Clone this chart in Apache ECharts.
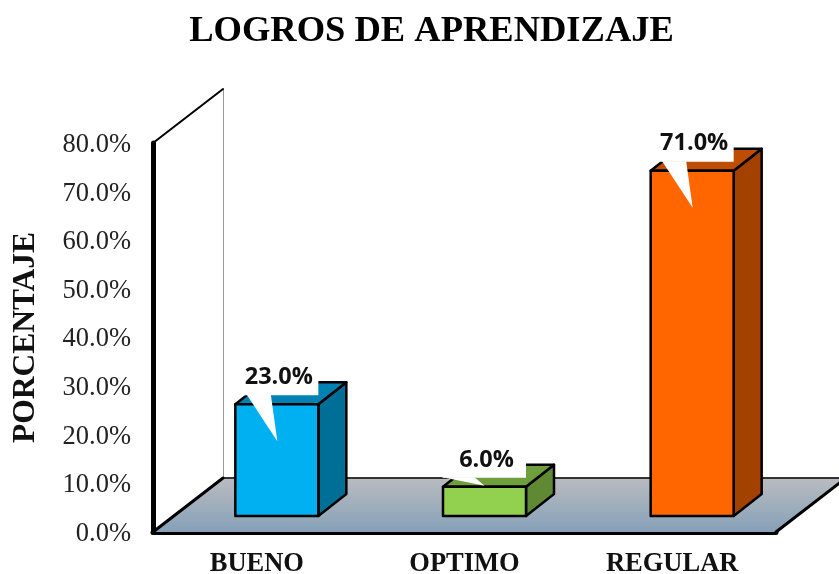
<!DOCTYPE html>
<html>
<head>
<meta charset="utf-8">
<style>
  html, body { margin: 0; padding: 0; background: #fff; }
  #main { width: 839px; height: 574px; }
</style>
<script src="https://cdn.jsdelivr.net/npm/echarts@6/dist/echarts.min.js"></script>
</head>
<body>
<div id="main"></div>
<script>
  var categories = ['BUENO', 'OPTIMO', 'REGULAR'];
  var values = [23, 6, 71];
  var frontColors = ['#00b0f0', '#92d050', '#ff6600'];
  var topColors = ['#0083b3', '#6f9e3d', '#bf4d00'];
  var sideColors = ['#006f98', '#5f8a33', '#a34100'];
  var yTicks = [0, 10, 20, 30, 40, 50, 60, 70, 80];

  // profundidad del piso y de las barras, en pixeles
  var floorDepth = [70, -54];
  var barDepth = [28, -22];
  var barShift = [20, -16];
  var barWidth = 83;

  var serif = '"Liberation Serif", "Times New Roman", serif';

  function poly(points, fill, stroke, lineWidth) {
    return {
      type: 'polygon',
      shape: { points: points },
      style: { fill: fill, stroke: stroke || 'none', lineWidth: lineWidth || 0, lineJoin: 'round' }
    };
  }

  function line(a, b, color, width) {
    return {
      type: 'line',
      shape: { x1: a[0], y1: a[1], x2: b[0], y2: b[1] },
      style: { stroke: color, lineWidth: width, lineCap: 'round' }
    };
  }

  // piso y pared del fondo
  function renderRoom(params, api) {
    var cs = params.coordSys;
    var left = cs.x, right = cs.x + cs.width, top = cs.y, bottom = cs.y + cs.height;
    var dx = floorDepth[0], dy = floorDepth[1];
    return {
      type: 'group',
      children: [
        line([left + dx + 0.5, bottom + dy], [left + dx + 0.5, top + dy], '#999', 1),
        line([left, top], [left + dx, top + dy], '#000', 2),
        {
          type: 'polygon',
          shape: { points: [[left, bottom], [right, bottom], [right + dx, bottom + dy], [left + dx, bottom + dy]] },
          style: {
            fill: new echarts.graphic.LinearGradient(0, 0, 0, 1, [
              { offset: 0, color: '#b9bcc0' },
              { offset: 1, color: '#86a0b8' }
            ])
          }
        },
        line([left + dx, bottom + dy], [right + dx, bottom + dy], '#333', 2),
        line([left, bottom], [left + dx, bottom + dy], '#000', 3),
        line([right, bottom], [right + dx, bottom + dy], '#000', 3)
      ]
    };
  }

  function renderBar(params, api) {
    var i = api.value(0);
    var base = api.coord([i, 0]);
    var head = api.coord([i, api.value(1)]);
    var x0 = base[0] - barWidth / 2 + barShift[0];
    var x1 = base[0] + barWidth / 2 + barShift[0];
    var y0 = base[1] + barShift[1];
    var y1 = head[1] + barShift[1];
    var dx = barDepth[0], dy = barDepth[1];
    var edge = '#000';
    return {
      type: 'group',
      children: [
        poly([[x1, y0], [x1 + dx, y0 + dy], [x1 + dx, y1 + dy], [x1, y1]], sideColors[i], edge, 2.5),
        poly([[x0, y1], [x1, y1], [x1 + dx, y1 + dy], [x0 + dx, y1 + dy]], topColors[i], edge, 2.5),
        poly([[x0, y0], [x1, y0], [x1, y1], [x0, y1]], frontColors[i], edge, 2.5)
      ]
    };
  }

  // etiqueta tipo globo: rectangulo blanco con punta hacia la barra
  function renderCallout(params, api) {
    var i = api.value(0);
    var base = api.coord([i, 0]);
    var head = api.coord([i, api.value(1)]);
    var cx = base[0] + barShift[0];
    var y1 = head[1] + barShift[1];
    var small = api.value(1) < 10;
    var boxLeft = cx - (small ? 42 : 36);
    var boxRight = cx + barWidth / 2;
    var tip = small ? [cx, y1 - 1] : [cx + 0.5, y1 + 37];
    var baseA = small ? cx - 42 : cx - 30;
    var baseB = small ? cx - 10 : cx - 6;
    return {
      type: 'group',
      children: [
        { type: 'rect', shape: { x: boxLeft, y: y1 - 42, width: boxRight - boxLeft, height: 33 }, style: { fill: '#fff' } },
        poly([[baseA, y1 - 9.5], [baseB, y1 - 9.5], tip], '#fff'),
        {
          type: 'text',
          x: cx + 2,
          y: y1 - 27,
          style: {
            text: api.value(1).toFixed(1) + '%',
            fill: '#111',
            font: 'bold 23.5px "Open Sans", "Noto Sans", sans-serif',
            align: 'center',
            verticalAlign: 'middle'
          }
        }
      ]
    };
  }

  var barData = categories.map(function (c, i) { return [i, values[i]]; });

  var chart = echarts.init(document.getElementById('main'));
  chart.setOption({
    animation: false,
    title: {
      text: 'LOGROS DE APRENDIZAJE',
      left: 426.5,
      top: 8,
      textAlign: 'center',
      textStyle: { fontFamily: serif, fontWeight: 'bold', fontSize: 36.5, color: '#000' }
    },
    grid: { left: 153, right: 63, top: 143, bottom: 42, outerBoundsMode: 'none' },
    xAxis: {
      type: 'category',
      data: categories,
      axisTick: { show: false },
      axisLine: { show: true, lineStyle: { color: '#000', width: 5 } },
      axisLabel: { margin: 19, fontFamily: serif, fontWeight: 'bold', fontSize: 26.5, color: '#111' }
    },
    yAxis: {
      type: 'value',
      min: yTicks[0],
      max: yTicks[yTicks.length - 1],
      interval: 10,
      name: 'PORCENTAJE',
      nameLocation: 'middle',
      nameGap: 111,
      nameRotate: 90,
      nameTextStyle: { fontFamily: serif, fontWeight: 'bold', fontSize: 31.5, color: '#111' },
      splitLine: { show: false },
      axisTick: { show: false },
      axisLine: { show: true, lineStyle: { color: '#000', width: 5 } },
      axisLabel: {
        margin: 22,
        formatter: function (v) { return '{t|' + v.toFixed(1) + '%}'; },
        rich: {
          t: { fontFamily: serif, fontSize: 26.5, color: '#222', padding: [4, 0, 0, 0] }
        }
      }
    },
    series: [
      { type: 'custom', renderItem: renderRoom, data: [[0, 0]], silent: true, clip: false, z: 1 },
      { type: 'custom', renderItem: renderBar, data: barData, encode: { x: 0, y: 1 }, clip: false, z: 3 },
      { type: 'custom', renderItem: renderCallout, data: barData, encode: { x: 0, y: 1 }, clip: false, z: 4 }
    ]
  });
</script>
</body>
</html>
